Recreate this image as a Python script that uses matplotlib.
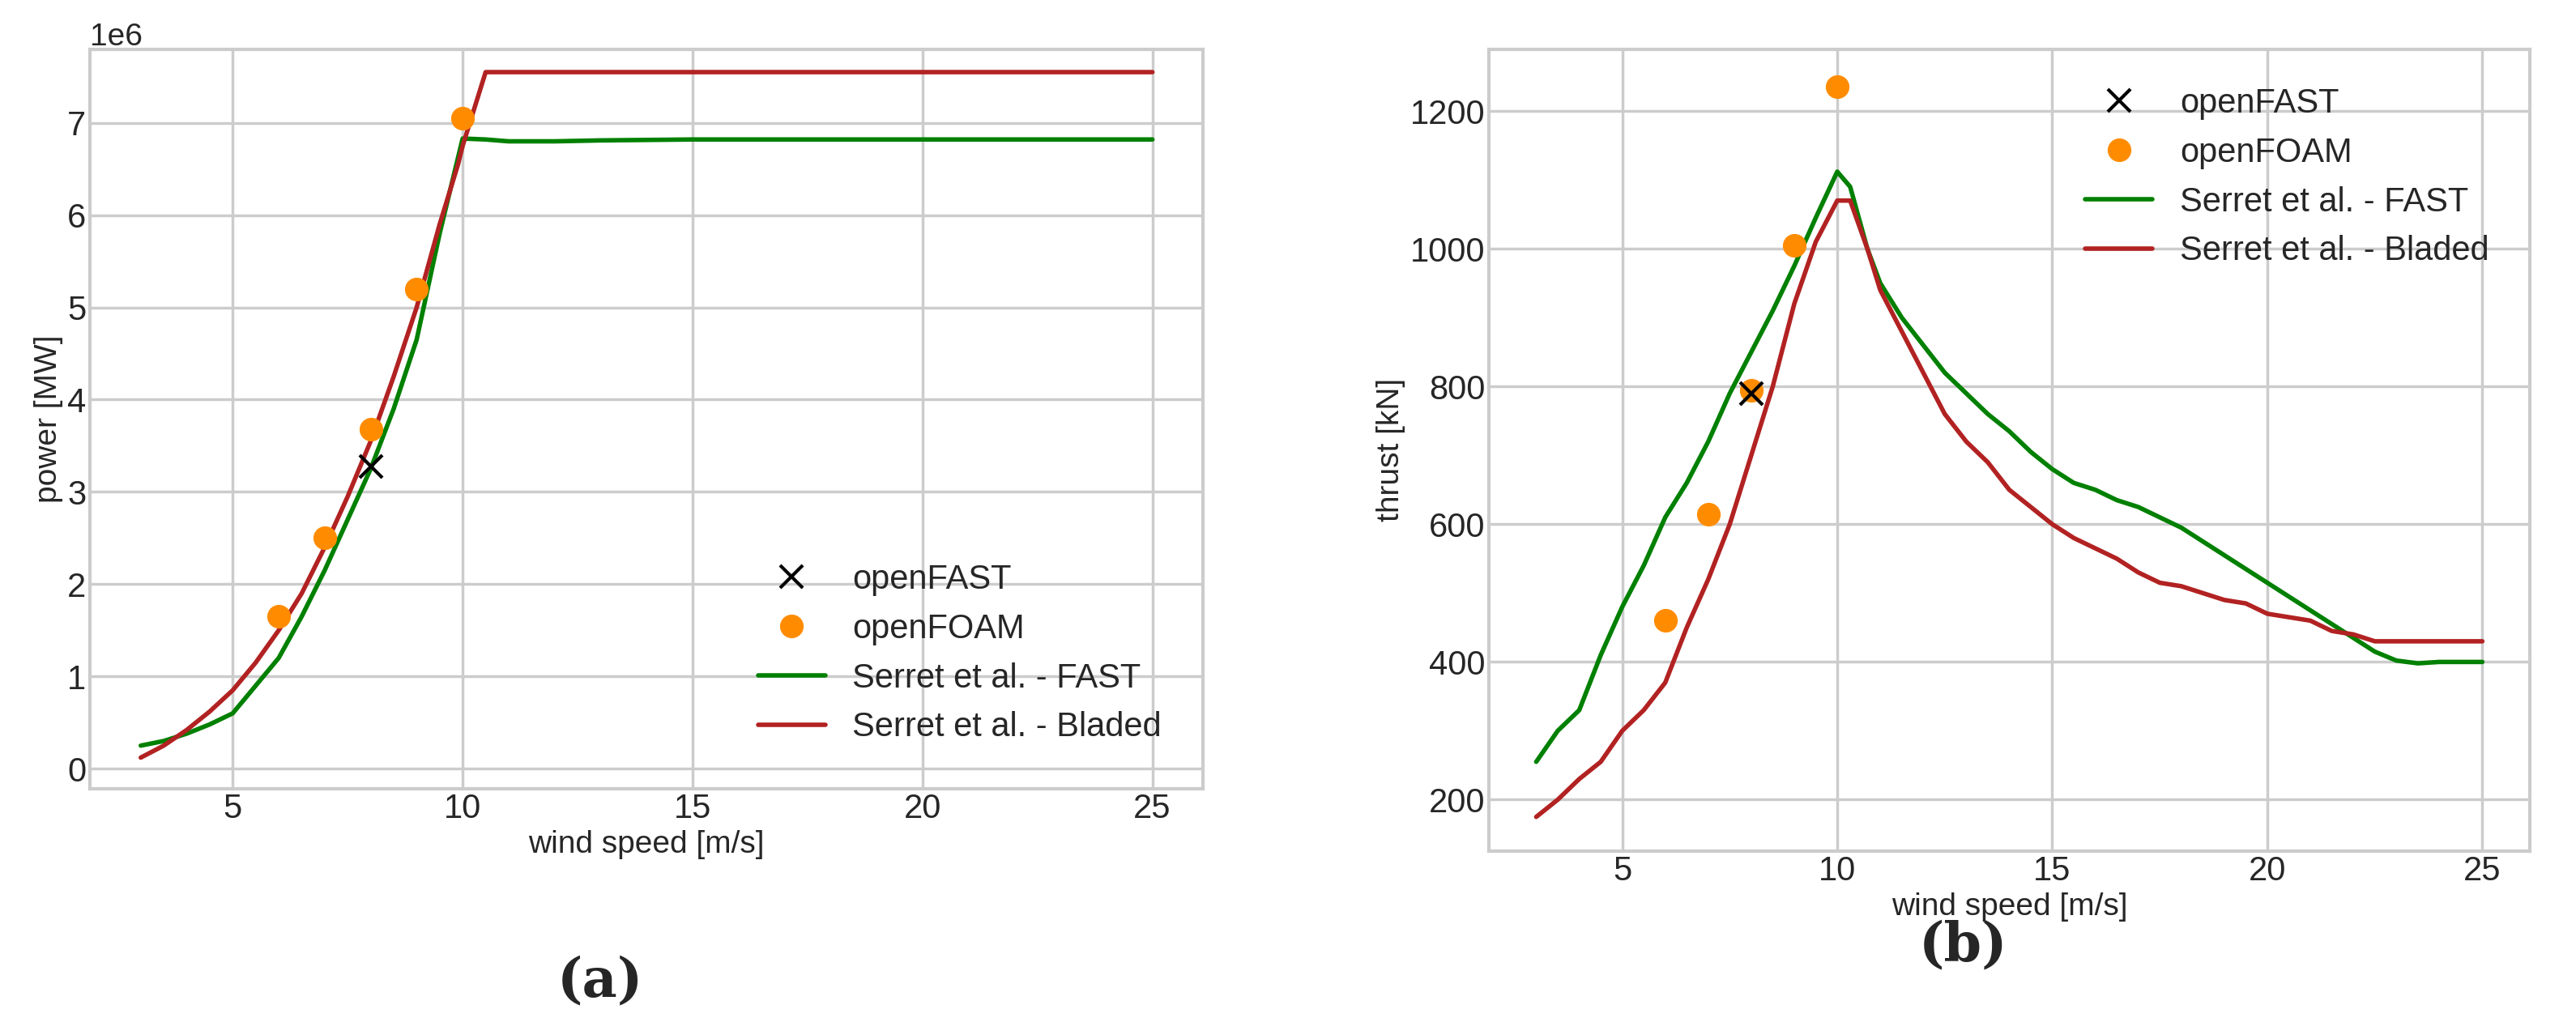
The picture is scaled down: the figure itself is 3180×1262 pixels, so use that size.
import matplotlib.pyplot as plt
import numpy as np

# power curves [W]
ws_fast_p = [3, 3.5, 4, 4.5, 5, 5.5, 6, 6.5, 7, 7.5, 8, 8.5, 9, 9.5, 10, 10.5, 11, 12, 13, 15, 18, 20, 23, 25]
p_fast = [0.25e6, 0.3e6, 0.38e6, 0.48e6, 0.6e6, 0.9e6, 1.2e6, 1.65e6, 2.15e6, 2.7e6, 3.25e6, 3.9e6, 4.65e6, 5.8e6, 6.83e6, 6.82e6, 6.8e6, 6.8e6, 6.81e6, 6.82e6, 6.82e6, 6.82e6, 6.82e6, 6.82e6]
ws_bl_p = [3, 3.5, 4, 4.5, 5, 5.5, 6, 6.5, 7, 7.5, 8, 8.5, 9, 9.5, 9.9, 10, 10.5, 11, 15, 20, 25]
p_bl = [0.12e6, 0.25e6, 0.42e6, 0.62e6, 0.85e6, 1.15e6, 1.5e6, 1.9e6, 2.4e6, 2.95e6, 3.55e6, 4.25e6, 5.0e6, 5.9e6, 6.55e6, 6.75e6, 7.55e6, 7.55e6, 7.55e6, 7.55e6, 7.55e6]

# thrust curves [kN]
ws_t = [3, 3.5, 4, 4.5, 5, 5.5, 6, 6.5, 7, 7.5, 8, 8.5, 9, 9.5, 10, 10.3, 10.7, 11, 11.5, 12, 12.5, 13, 13.5,
        14, 14.5, 15, 15.5, 16, 16.5, 17, 17.5, 18, 18.5, 19, 19.5, 20, 20.5, 21, 21.5, 22, 22.5, 23, 23.5, 24, 25]
t_fast = [255, 300, 330, 410, 480, 540, 610, 660, 720, 790, 850, 910, 975, 1045, 1112, 1090, 1000, 950, 900, 860, 820,
          790, 760, 735, 705, 680, 660, 650, 635, 625, 610, 595, 575, 555, 535, 515, 495, 475, 455, 435, 415, 402, 398, 400, 400]
t_bl = [175, 200, 230, 255, 300, 330, 370, 450, 520, 600, 700, 800, 920, 1010, 1070, 1070, 1000, 940, 880, 820, 760,
        720, 690, 650, 625, 600, 580, 565, 550, 530, 515, 510, 500, 490, 485, 470, 465, 460, 445, 440, 430, 430, 430, 430, 430]

ws_fast_pt = [8]
p_openfast = [3.28e6]
t_openfast = [790]
ws_foam = [6, 7, 8, 9, 10]
p_openfoam = [1.65e6, 2.5e6, 3.68e6, 5.2e6, 7.05e6]
t_openfoam = [460, 615, 795, 1005, 1235]

plt.style.use('seaborn-v0_8-whitegrid')
plt.rcParams['font.family'] = ['Liberation Sans', 'DejaVu Sans']
plt.rcParams['font.size'] = 28

fig = plt.figure(figsize=(31.8, 12.62), dpi=100)
ax1 = fig.add_axes([0.035, 0.228, 0.432, 0.724])
ax2 = fig.add_axes([0.578, 0.167, 0.404, 0.785])

for ax, fast, bl, y_of, y_foam, wsp_f, wsp_b in [
        (ax1, p_fast, p_bl, p_openfast, p_openfoam, ws_fast_p, ws_bl_p),
        (ax2, t_fast, t_bl, t_openfast, t_openfoam, ws_t, ws_t)]:
    ax.plot(ws_fast_pt, y_of, 'x', color='black', ms=20, mew=3, label='openFAST', zorder=4)
    ax.plot(ws_foam, y_foam, 'o', color='darkorange', ms=20, label='openFOAM', zorder=3)
    ax.plot(wsp_f, fast, color='green', lw=4, label='Serret et al. - FAST')
    ax.plot(wsp_b, bl, color='firebrick', lw=4, label='Serret et al. - Bladed')
    ax.set_xlabel('wind speed [m/s]', fontsize=28)
    ax.set_xticks([5, 10, 15, 20, 25])
    ax.tick_params(labelsize=30)
    for s in ax.spines.values():
        s.set_visible(True)
        s.set_color('#cccccc')
        s.set_linewidth(3)
    ax.grid(color='#cccccc', lw=2.5)

ax1.set_xlim(1.9, 26.1)
ax1.set_ylim(-0.22e6, 7.8e6)
ax1.set_ylabel('power [MW]', fontsize=28)
ax1.yaxis.get_offset_text().set_fontsize(28)
ax1.legend(loc='lower right', fontsize=30, bbox_to_anchor=(0.99, 0.02))

ax2.set_xlim(1.9, 26.1)
ax2.set_ylim(125, 1290)
ax2.set_ylabel('thrust [kN]', fontsize=28)
ax2.legend(loc='upper right', fontsize=30, bbox_to_anchor=(0.99, 0.99))

fig.text(0.233, 0.025, '(a)', fontsize=48, family='DejaVu Serif', fontweight='bold', ha='center')
fig.text(0.762, 0.06, '(b)', fontsize=48, family='DejaVu Serif', fontweight='bold', ha='center')

fig.savefig('out.png', dpi=100)
